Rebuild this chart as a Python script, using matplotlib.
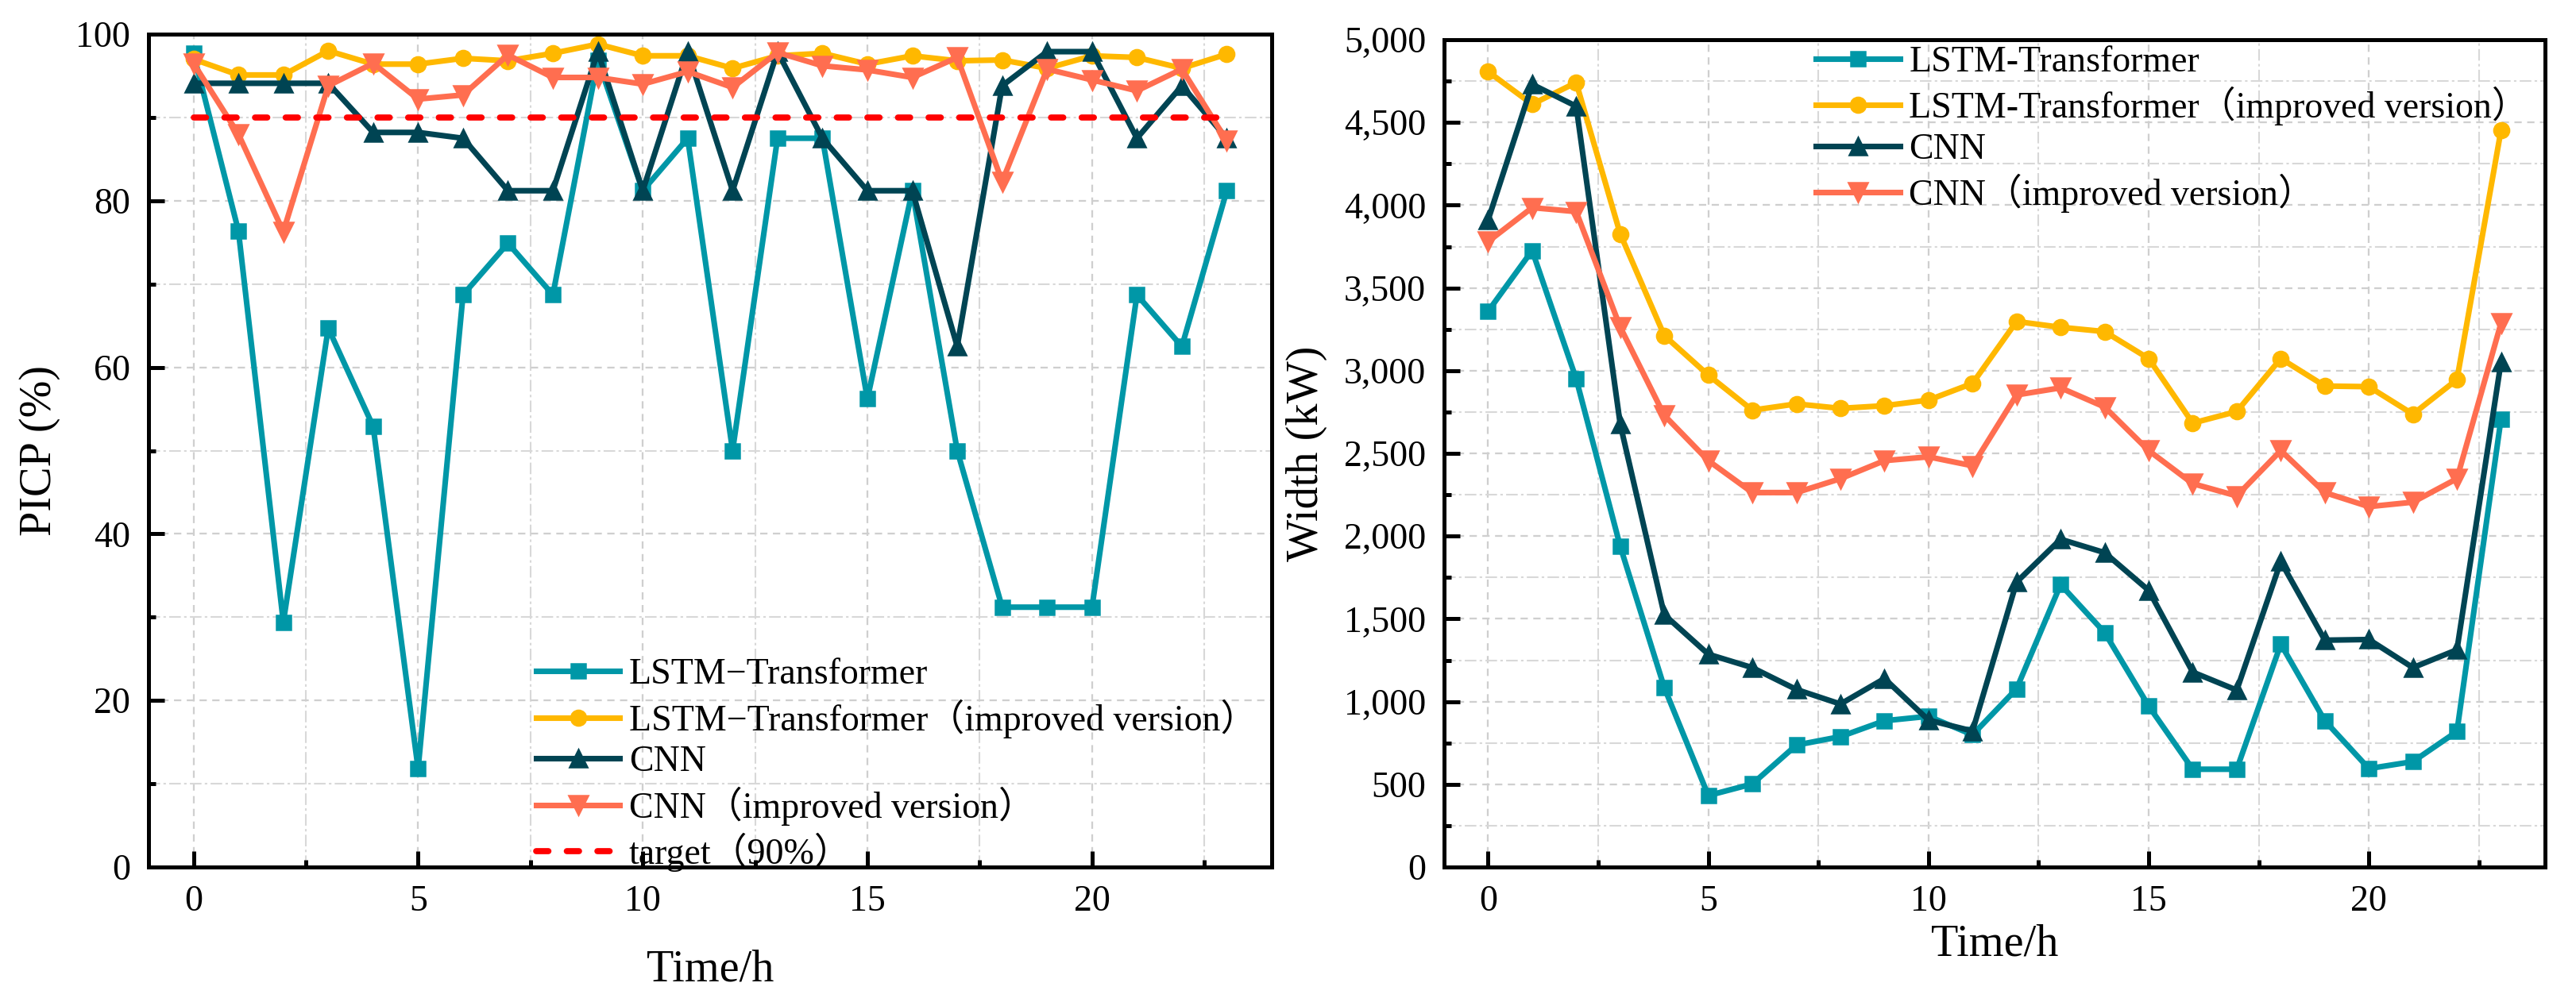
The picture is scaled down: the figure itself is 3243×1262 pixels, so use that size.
import matplotlib
matplotlib.use('Agg')
import matplotlib.pyplot as plt
from matplotlib.ticker import MultipleLocator, FuncFormatter
import numpy as np

plt.rcParams['font.family'] = ['Liberation Serif', 'Noto Sans CJK SC', 'DejaVu Sans']
plt.rcParams['mathtext.fontset'] = 'stix'

hours = list(range(24))

# PICP (%)
picp_lt = [97.7, 76.4, 29.4, 64.7, 52.9, 11.8, 68.7, 74.9, 68.7, 96.9, 81.2, 87.5,
           50.0, 87.5, 87.5, 56.2, 81.2, 50.0, 31.2, 31.2, 31.2, 68.7, 62.5, 81.2]
picp_lt_imp = [97.0, 95.1, 95.1, 98.0, 96.4, 96.4, 97.1, 96.8, 97.7, 98.8, 97.4, 97.4,
               95.9, 97.4, 97.7, 96.4, 97.4, 96.8, 96.9, 95.9, 97.4, 97.2, 95.9, 97.6]
picp_cnn = [94.1, 94.1, 94.1, 94.1, 88.2, 88.2, 87.5, 81.2, 81.2, 97.9, 81.2, 97.9,
            81.2, 97.9, 87.5, 81.2, 81.2, 62.5, 93.8, 97.9, 97.9, 87.5, 93.8, 87.5]
picp_cnn_imp = [96.5, 88.0, 76.3, 93.8, 96.5, 92.2, 92.7, 97.5, 94.8, 94.8, 94.0, 95.5,
                93.6, 97.8, 96.2, 95.7, 94.8, 97.2, 82.3, 95.8, 94.5, 93.2, 95.8, 87.2]
target = 90

# Interval width (kW)
w_lt = [3359, 3726, 2950, 1938, 1085, 432, 502, 737, 788, 884, 911, 799,
        1077, 1707, 1417, 973, 591, 591, 1347, 884, 595, 637, 819, 2707]
w_lt_imp = [4807, 4610, 4741, 3826, 3212, 2973, 2761, 2799, 2772, 2788, 2822, 2923,
            3297, 3262, 3236, 3073, 2683, 2753, 3073, 2907, 2903, 2737, 2946, 4452]
w_cnn = [3911, 4730, 4598, 2676, 1525, 1286, 1205, 1073, 985, 1139, 888, 822,
         1722, 1981, 1900, 1672, 1178, 1069, 1846, 1371, 1375, 1205, 1313, 3050]
w_cnn_imp = [3780, 3985, 3961, 3263, 2730, 2456, 2263, 2263, 2347, 2456, 2479, 2425,
             2853, 2896, 2780, 2517, 2317, 2243, 2517, 2263, 2178, 2205, 2347, 3286]

c_teal = '#0097A7'
c_yel = '#FFB800'
c_dark = '#004453'
c_coral = '#FF6E50'

W, H = 3243, 1262
fig = plt.figure(figsize=(W / 300, H / 300), dpi=300)
ax1 = fig.add_axes([187 / W, 170 / H, 1414 / W, 1049 / H])
ax2 = fig.add_axes([1818 / W, 170 / H, 1386 / W, 1042 / H])

lw = 1.7
mk = dict(s=4.2, o=4.6, up=5.4, dn=5.6)


def style(ax):
    for s in ax.spines.values():
        s.set_linewidth(1.2)
    ax.tick_params(which='both', direction='in', width=1.2, labelsize=11,
                   top=False, right=False, pad=5.5)
    ax.tick_params(which='major', length=4.8)
    ax.tick_params(which='minor', length=2.2)
    ax.xaxis.set_major_locator(MultipleLocator(5))
    ax.xaxis.set_minor_locator(MultipleLocator(2.5))
    ax.grid(which='major', color='#CFCFCF', lw=0.55, ls=(0, (4, 3)))
    ax.grid(which='minor', color='#D8D8D8', lw=0.5, ls=(0, (7, 2, 1.5, 2)))
    ax.set_axisbelow(True)
    ax.set_xlim(-1, 24)


# left panel
ax1.plot(hours, picp_lt, '-s', color=c_teal, lw=lw, ms=mk['s'], mew=0.6,
         label='LSTM\u2212Transformer')
ax1.plot(hours, picp_lt_imp, '-o', color=c_yel, lw=lw, ms=mk['o'], mew=0.6,
         label='LSTM\u2212Transformer\uff08improved version\uff09')
ax1.plot(hours, picp_cnn, '-^', color=c_dark, lw=lw, ms=mk['up'], mew=0.6, label='CNN')
ax1.plot(hours, picp_cnn_imp, '-v', color=c_coral, lw=lw, ms=mk['dn'], mew=0.6,
         label='CNN\uff08improved version\uff09')
ax1.plot([hours[0], hours[-1]], [target, target], color='#FF0000', lw=1.85,
         ls=(0, (2.0, 3.0)), dash_capstyle='round',
         label='target\uff0890%\uff09')
style(ax1)
ax1.set_ylim(0, 100)
ax1.yaxis.set_major_locator(MultipleLocator(20))
ax1.yaxis.set_minor_locator(MultipleLocator(10))
ax1.set_ylabel('PICP (%)', fontsize=13.5)
ax1.yaxis.set_label_coords(-0.0785, 0.5)
ax1.set_xlabel('Time/h', fontsize=13.5)
ax1.xaxis.set_label_coords(0.5, -0.099)
ax1.legend(loc='lower left', bbox_to_anchor=(0.345, -0.006), frameon=False,
           fontsize=11, borderpad=0, borderaxespad=0, handlelength=2.3,
           handletextpad=0.25, labelspacing=0.2)

# right panel
ax2.plot(hours, w_lt, '-s', color=c_teal, lw=lw, ms=mk['s'], mew=0.6,
         label='LSTM-Transformer')
ax2.plot(hours, w_lt_imp, '-o', color=c_yel, lw=lw, ms=mk['o'], mew=0.6,
         label='LSTM-Transformer\uff08improved version\uff09')
ax2.plot(hours, w_cnn, '-^', color=c_dark, lw=lw, ms=mk['up'], mew=0.6, label='CNN')
ax2.plot(hours, w_cnn_imp, '-v', color=c_coral, lw=lw, ms=mk['dn'], mew=0.6,
         label='CNN\uff08improved version\uff09')
style(ax2)
ax2.set_ylim(0, 5000)
ax2.yaxis.set_major_locator(MultipleLocator(500))
ax2.yaxis.set_minor_locator(MultipleLocator(250))
ax2.yaxis.set_major_formatter(FuncFormatter(lambda v, p: '{:,.0f}'.format(v)))
ax2.set_ylabel('Width (kW)', fontsize=13.5)
ax2.yaxis.set_label_coords(-0.106, 0.5)
ax2.set_xlabel('Time/h', fontsize=13.5)
ax2.xaxis.set_label_coords(0.5, -0.069)
ax2.legend(loc='upper left', bbox_to_anchor=(0.338, 0.993), frameon=False,
           fontsize=11, borderpad=0, borderaxespad=0, handlelength=2.3,
           handletextpad=0.25, labelspacing=0.2)

fig.savefig('out.png', dpi=300)
